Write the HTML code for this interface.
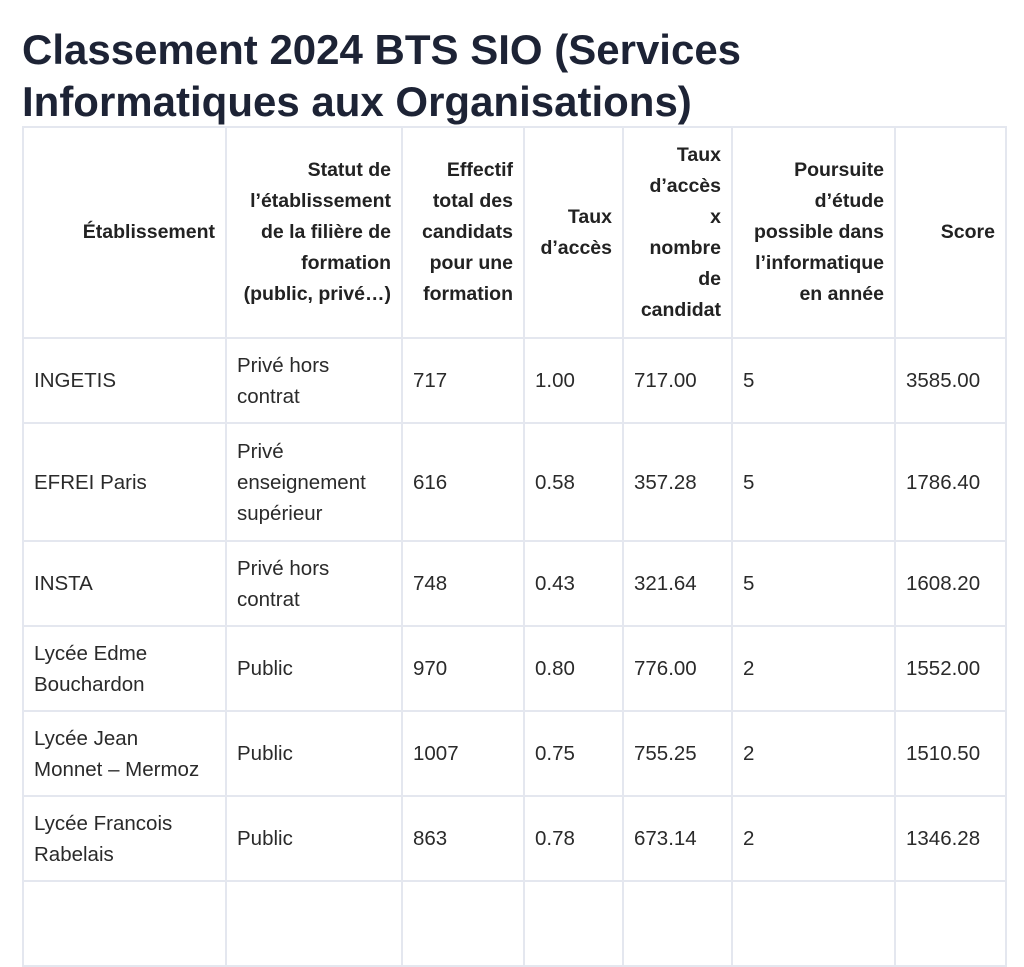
<!DOCTYPE html>
<html><head><meta charset="utf-8"><style>
html,body{margin:0;padding:0;background:#fff;width:1024px;height:889px;overflow:hidden}
body{font-family:"Liberation Sans",sans-serif;color:#222}
h1{position:absolute;left:22px;top:24px;margin:0;font-size:42px;line-height:52px;font-weight:bold;color:#1d2335;width:1000px;white-space:nowrap}
table{position:absolute;left:22px;top:126px;border-collapse:collapse;table-layout:fixed;width:983px}
td,th{border:2px solid #e4e7ef;padding:0 10px;font-size:20.5px;line-height:31px;vertical-align:middle;overflow:hidden;white-space:nowrap}
th{text-align:right;font-weight:bold;color:#222;font-size:19.5px}
td{text-align:left;color:#2a2a2a}
</style></head><body>
<h1>Classement 2024 BTS SIO (Services<br>Informatiques aux Organisations)</h1>
<table>
<colgroup><col style="width:203px"><col style="width:176px"><col style="width:122px"><col style="width:99px"><col style="width:109px"><col style="width:163px"><col style="width:111px"></colgroup>
<tr style="height:211px"><th>Établissement</th><th>Statut de<br>l’établissement<br>de la filière de<br>formation<br>(public, privé…)</th><th>Effectif<br>total des<br>candidats<br>pour une<br>formation</th><th>Taux<br>d’accès</th><th>Taux<br>d’accès<br>x<br>nombre<br>de<br>candidat</th><th>Poursuite<br>d’étude<br>possible dans<br>l’informatique<br>en année</th><th>Score</th></tr>
<tr style="height:85px"><td>INGETIS</td><td>Privé hors<br>contrat</td><td>717</td><td>1.00</td><td>717.00</td><td>5</td><td>3585.00</td></tr>
<tr style="height:118px"><td>EFREI Paris</td><td>Privé<br>enseignement<br>supérieur</td><td>616</td><td>0.58</td><td>357.28</td><td>5</td><td>1786.40</td></tr>
<tr style="height:85px"><td>INSTA</td><td>Privé hors<br>contrat</td><td>748</td><td>0.43</td><td>321.64</td><td>5</td><td>1608.20</td></tr>
<tr style="height:85px"><td>Lycée Edme<br>Bouchardon</td><td>Public</td><td>970</td><td>0.80</td><td>776.00</td><td>2</td><td>1552.00</td></tr>
<tr style="height:85px"><td>Lycée Jean<br>Monnet – Mermoz</td><td>Public</td><td>1007</td><td>0.75</td><td>755.25</td><td>2</td><td>1510.50</td></tr>
<tr style="height:85px"><td>Lycée Francois<br>Rabelais</td><td>Public</td><td>863</td><td>0.78</td><td>673.14</td><td>2</td><td>1346.28</td></tr>
<tr style="height:85px"><td>&nbsp;</td><td></td><td></td><td></td><td></td><td></td><td></td></tr>
</table>
</body></html>
